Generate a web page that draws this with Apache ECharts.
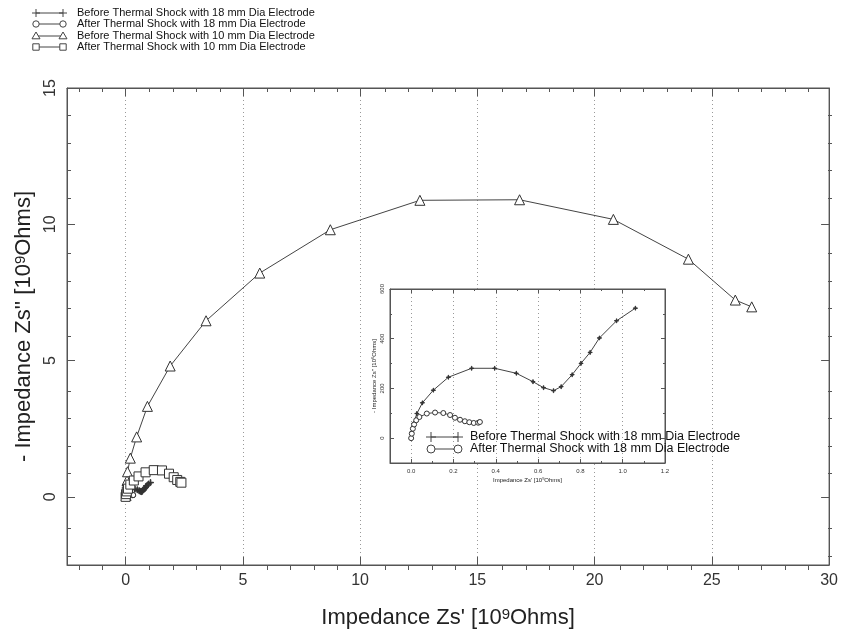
<!DOCTYPE html>
<html>
<head>
<meta charset="UTF-8">
<title>Impedance Zs</title>
<script src="https://cdn.jsdelivr.net/npm/echarts@6/dist/echarts.min.js"></script>
<style>
	html, body { margin: 0; padding: 0; background: #fff; }
	#chart { width: 841px; height: 634px; }
</style>
</head>
<body>
<div id="chart"></div>
<script>
// 10 mm electrode, Zs' and -Zs'' in 1e9 Ohms
var before10X = [0.02, 0.04, 0.06, 0.08, 0.2, 0.47, 0.93, 1.9, 3.43, 5.72, 8.73, 12.55, 16.8, 20.8, 24.0, 26.0, 26.7];
var before10Y = [0.05, 0.3, 0.6, 0.92, 1.42, 2.2, 3.32, 4.8, 6.46, 8.21, 9.8, 10.88, 10.9, 10.18, 8.72, 7.22, 6.97];
var after10X = [0.0, 0.02, 0.05, 0.1, 0.2, 0.35, 0.55, 0.85, 1.2, 1.55, 1.85, 2.05, 2.2, 2.33, 2.38];
var after10Y = [0.0, 0.1, 0.2, 0.3, 0.45, 0.6, 0.75, 0.9, 0.98, 0.97, 0.85, 0.72, 0.62, 0.55, 0.52];

// 18 mm electrode, Zs' in 1e9 Ohms, -Zs'' in 1e6 Ohms (inset units)
var before18X = [0.0, 0.003, 0.011, 0.027, 0.053, 0.105, 0.176, 0.286, 0.395, 0.497, 0.576, 0.626, 0.673, 0.709, 0.761, 0.803, 0.846, 0.89, 0.971, 1.06];
var before18Y = [0, 24, 58, 99, 142, 193, 245, 281, 281, 261, 227, 203, 191, 207, 255, 301, 345, 403, 472, 523];
var after18X = [0.0, 0.003, 0.008, 0.014, 0.024, 0.039, 0.074, 0.113, 0.152, 0.184, 0.207, 0.231, 0.254, 0.275, 0.296, 0.317, 0.325];
var after18Y = [0, 18, 38, 55, 72, 85, 99, 103, 101, 93, 82, 74, 68, 64, 61, 62, 65];

var legendNames = [
	'Before Thermal Shock with 18 mm Dia Electrode',
	'After Thermal Shock with 18 mm Dia Electrode',
	'Before Thermal Shock with 10 mm Dia Electrode',
	'After Thermal Shock with 10 mm Dia Electrode'
];

// axis ticks and labels
var mainXLabels = [0, 5, 10, 15, 20, 25, 30];
var mainXMajor = [0, 5, 10, 15, 20, 25];
var mainXMinor = [-2, -1, 1, 2, 3, 4, 6, 7, 8, 9, 11, 12, 13, 14, 16, 17, 18, 19, 21, 22, 23, 24, 26, 27, 28, 29];
var mainYLabels = [0, 5, 10, 15];
var mainYMajor = [0, 5, 10];
var mainYMinor = [-2, -1, 1, 2, 3, 4, 6, 7, 8, 9, 11, 12, 13, 14];
var insetXLabels = [0, 0.2, 0.4, 0.6, 0.8, 1.0, 1.2];
var insetXMajor = [0, 0.2, 0.4, 0.6, 0.8, 1.0];
var insetXMinor = [0.1, 0.3, 0.5, 0.7, 0.9, 1.1];
var insetYLabels = [0, 200, 400, 600];
var insetYMajor = [0, 200, 400];
var insetYMinor = [100, 300, 500];

function pairs(xs, ys, k) {
	var out = [];
	for (var i = 0; i < xs.length; i++) out.push([xs[i], ys[i] * (k || 1)]);
	return out;
}

var plusPath = 'path://M-0.12,-1L0.12,-1L0.12,-0.12L1,-0.12L1,0.12L0.12,0.12L0.12,1L-0.12,1L-0.12,0.12L-1,0.12L-1,-0.12L-0.12,-0.12Z';
var ink = '#333';
var font = 'Liberation Sans, Arial, sans-serif';

// one axis; major ones carry the line, labels and dotted split lines
function axis(dim, grid, pos, min, max, ticks, len, opt) {
	opt = opt || {};
	var a = {
		type: 'value', gridIndex: grid, position: pos, min: min, max: max, z: opt.z || 0,
		axisLine: { show: !!opt.line, onZero: false, lineStyle: { color: '#555', width: 1 } },
		axisTick: { show: true, inside: true, length: len, customValues: ticks, lineStyle: { color: '#555' } },
		axisLabel: { show: false },
		splitLine: { show: false }
	};
	if (opt.labels) {
		a.axisLabel = {
			show: true, customValues: opt.labels, color: ink, fontFamily: font,
			fontSize: opt.fontSize, margin: opt.margin, rotate: opt.rotate || 0,
			formatter: opt.fmt
		};
	}
	if (opt.split) {
		a.splitLine = { show: true, lineStyle: { type: [1, 3], color: '#999', width: 1 } };
	}
	if (opt.name) {
		a.name = opt.name;
		a.nameLocation = 'middle';
		a.nameGap = opt.nameGap;
		a.nameTextStyle = opt.nameStyle;
	}
	return a;
}

var supRich = function (size, sup) {
	return {
		fontSize: size, color: '#222', fontFamily: font,
		rich: { sup: { fontSize: sup, color: '#222', fontFamily: font, verticalAlign: 'top', lineHeight: size } }
	};
};

var xAxes = [
	axis('x', 0, 'bottom', -2.5, 30, mainXMajor, 8, { line: true, labels: mainXLabels, fontSize: 16, margin: 8, split: true,
		name: "Impedance Zs' [10{sup|9}Ohms]", nameGap: 42, nameStyle: supRich(22, 15) }),
	axis('x', 0, 'top', -2.5, 30, mainXMajor, 8, { line: true }),
	axis('x', 1, 'bottom', -2.5, 30, mainXMinor, 4),
	axis('x', 1, 'top', -2.5, 30, mainXMinor, 4),
	axis('x', 2, 'bottom', -0.1, 1.2, insetXMajor, 4, { line: true, labels: insetXLabels, fontSize: 6, margin: 5, split: true, z: 4,
		fmt: function (v) { return v.toFixed(1); },
		name: "Impedance Zs' [10{sup|9}Ohms]", nameGap: 14, nameStyle: supRich(6, 4) }),
	axis('x', 2, 'top', -0.1, 1.2, insetXMajor, 4, { line: true, z: 4 }),
	axis('x', 3, 'bottom', -0.1, 1.2, insetXMinor, 2, { z: 4 }),
	axis('x', 3, 'top', -0.1, 1.2, insetXMinor, 2, { z: 4 })
];

var yAxes = [
	axis('y', 0, 'left', -2.5, 15, mainYMajor, 8, { line: true, labels: mainYLabels, fontSize: 16, margin: 8, rotate: 90,
		name: "- Impedance Zs'' [10{sup|9}Ohms]", nameGap: 27, nameStyle: supRich(22, 15) }),
	axis('y', 0, 'right', -2.5, 15, mainYMajor, 8, { line: true }),
	axis('y', 1, 'left', -2.5, 15, mainYMinor, 4),
	axis('y', 1, 'right', -2.5, 15, mainYMinor, 4),
	axis('y', 2, 'left', -100, 600, insetYMajor, 4, { line: true, labels: insetYLabels, fontSize: 6, margin: 5, rotate: 90, z: 4,
		name: "- Impedance Zs'' [10{sup|6}Ohms]", nameGap: 13, nameStyle: supRich(6, 4) }),
	axis('y', 2, 'right', -100, 600, insetYMajor, 4, { line: true, z: 4 }),
	axis('y', 3, 'left', -100, 600, insetYMinor, 2, { z: 4 }),
	axis('y', 3, 'right', -100, 600, insetYMinor, 2, { z: 4 })
];

var mainGrid = { left: 67, right: 9, top: 88, bottom: 64 };
var insetGrid = { left: 390, top: 289, width: 275, height: 174 };

function lineSeries(name, data, xi, yi, symbol, size, z) {
	return {
		name: name, type: 'line', data: data, xAxisIndex: xi, yAxisIndex: yi,
		symbol: symbol, symbolSize: size, showSymbol: true, z: z || 2,
		lineStyle: { color: '#444', width: 1 },
		itemStyle: { color: symbol === plusPath ? '#333' : '#fff', borderColor: '#333', borderWidth: 1 },
		emphasis: { disabled: true }, animation: false
	};
}

// legend drawn as line with a marker at both ends, like the original
function marker(kind, cx, cy, r) {
	var st = { fill: 'none', stroke: '#444', lineWidth: 1 };
	if (kind === 'plus') return [
		{ type: 'line', shape: { x1: cx, y1: cy - r, x2: cx, y2: cy + r }, style: st },
		{ type: 'line', shape: { x1: cx - r, y1: cy, x2: cx + r, y2: cy }, style: st }];
	if (kind === 'circle') return [{ type: 'circle', shape: { cx: cx, cy: cy, r: r * 0.8 }, style: { fill: '#fff', stroke: '#444', lineWidth: 1 } }];
	if (kind === 'triangle') return [{ type: 'polygon', shape: { points: [[cx, cy - r], [cx + r, cy + r * 0.7], [cx - r, cy + r * 0.7]] }, style: { fill: '#fff', stroke: '#444', lineWidth: 1 } }];
	return [{ type: 'rect', shape: { x: cx - r * 0.8, y: cy - r * 0.8, width: r * 1.6, height: r * 1.6 }, style: { fill: '#fff', stroke: '#444', lineWidth: 1 } }];
}

function legendRow(kind, x1, x2, y, r, tx, text, fs) {
	var els = [{ type: 'line', shape: { x1: x1, y1: y, x2: x2, y2: y }, style: { stroke: '#444', lineWidth: 1 } }];
	els = els.concat(marker(kind, x1, y, r), marker(kind, x2, y, r));
	els.push({ type: 'text', x: tx, y: y, style: { text: text, fill: '#111', font: fs + 'px ' + font, textVerticalAlign: 'middle' } });
	return els;
}

var kinds = ['plus', 'circle', 'triangle', 'square'];
var legendYs = [13, 24, 36, 47];
var graphics = [];
for (var i = 0; i < 4; i++) {
	graphics = graphics.concat(legendRow(kinds[i], 36, 63, legendYs[i], 4, 77, legendNames[i], 11));
}
graphics = graphics.concat(legendRow('plus', 431, 458, 437, 5, 470, legendNames[0], 12.5));
graphics = graphics.concat(legendRow('circle', 431, 458, 449, 5, 470, legendNames[1], 12.5));
graphics.forEach(function (g) { g.z = 20; });

var chart = echarts.init(document.getElementById('chart'), null, { renderer: 'canvas' });
chart.setOption({
	backgroundColor: '#fff',
	animation: false,
	grid: [
		Object.assign({ show: true, borderColor: '#555', borderWidth: 1, backgroundColor: 'transparent' }, mainGrid),
		Object.assign({ show: false }, mainGrid),
		Object.assign({ show: true, borderColor: '#555', borderWidth: 1, backgroundColor: '#fff', z: 3 }, insetGrid),
		Object.assign({ show: false, z: 3 }, insetGrid)
	],
	xAxis: xAxes,
	yAxis: yAxes,
	series: [
		lineSeries(legendNames[0], pairs(before18X, before18Y, 0.001), 0, 0, plusPath, 6),
		lineSeries(legendNames[1], pairs(after18X, after18Y, 0.001), 0, 0, 'circle', 5),
		lineSeries(legendNames[2], pairs(before10X, before10Y), 0, 0, 'triangle', 10),
		lineSeries(legendNames[3], pairs(after10X, after10Y), 0, 0, 'rect', 9),
		lineSeries(legendNames[0] + ' (inset)', pairs(before18X, before18Y), 4, 4, plusPath, 4, 6),
		lineSeries(legendNames[1] + ' (inset)', pairs(after18X, after18Y), 4, 4, 'circle', 5, 6)
	],
	graphic: graphics
});
</script>
</body>
</html>
